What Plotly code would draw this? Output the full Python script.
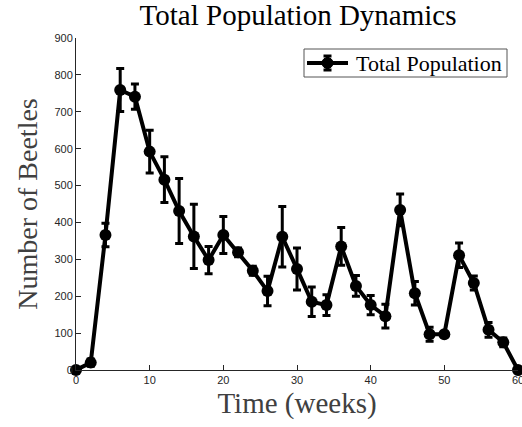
import plotly.graph_objects as go

# Beetle census, sampled every two weeks
weeks = [0, 2, 4, 6, 8, 10, 12, 14, 16, 18, 20, 22, 24, 26, 28, 30,
         32, 34, 36, 38, 40, 42, 44, 46, 48, 50, 52, 54, 56, 58, 60]
total_population = [0, 20, 366, 759, 741, 592, 516, 431, 362, 298, 366, 319,
                    269, 214, 361, 274, 185, 176, 335, 228, 176, 146, 434, 208,
                    97, 97, 311, 236, 109, 75, 0]
population_sd = [0, 10, 32, 58, 34, 58, 62, 88, 87, 37, 50, 12,
                 12, 40, 82, 57, 40, 28, 51, 28, 26, 32, 43, 32,
                 19, 5, 33, 19, 20, 12, 0]

x_ticks = [0, 10, 20, 30, 40, 50, 60]
y_ticks = [0, 100, 200, 300, 400, 500, 600, 700, 800, 900]
series_name = "Total Population"

serif = "Liberation Serif, DejaVu Serif, serif"
sans = "Liberation Sans, Arial, sans-serif"
axis_grey = "#262626"

W, H = 522, 427
M = dict(l=76, r=4, t=38, b=57)
plot_w = W - M["l"] - M["r"]
plot_h = H - M["t"] - M["b"]


def px_x(px):
    """Pixel column -> paper x."""
    return (px - M["l"]) / plot_w


def px_y(py):
    """Pixel row (from top) -> paper y."""
    return (H - M["b"] - py) / plot_h


fig = go.Figure()
fig.add_trace(go.Scatter(
    x=weeks,
    y=total_population,
    mode="lines+markers",
    name=series_name,
    line=dict(color="black", width=4),
    marker=dict(color="black", size=12),
    error_y=dict(type="data", array=population_sd, visible=True,
                 color="black", thickness=3, width=4),
    cliponaxis=False,
    showlegend=False,
))

# Boxed legend with a line / marker / error-bar key
box_l, box_r, box_t, box_b = 304, 507, 49, 77
key_y = (box_t + box_b) / 2
key_cx = 327.5
shapes = [
    dict(type="rect", xref="paper", yref="paper",
         x0=px_x(box_l), x1=px_x(box_r), y0=px_y(box_b), y1=px_y(box_t),
         line=dict(color="#555555", width=1), fillcolor="white", layer="above"),
    dict(type="line", xref="paper", yref="paper",
         x0=px_x(307), x1=px_x(348), y0=px_y(key_y), y1=px_y(key_y),
         line=dict(color="black", width=4), layer="above"),
    dict(type="line", xref="paper", yref="paper",
         x0=px_x(key_cx), x1=px_x(key_cx), y0=px_y(key_y - 7), y1=px_y(key_y + 7),
         line=dict(color="black", width=3), layer="above"),
    dict(type="line", xref="paper", yref="paper",
         x0=px_x(key_cx - 4), x1=px_x(key_cx + 4), y0=px_y(key_y - 7), y1=px_y(key_y - 7),
         line=dict(color="black", width=3), layer="above"),
    dict(type="line", xref="paper", yref="paper",
         x0=px_x(key_cx - 4), x1=px_x(key_cx + 4), y0=px_y(key_y + 7), y1=px_y(key_y + 7),
         line=dict(color="black", width=3), layer="above"),
    dict(type="circle", xref="paper", yref="paper",
         x0=px_x(key_cx - 5.5), x1=px_x(key_cx + 5.5),
         y0=px_y(key_y + 5.5), y1=px_y(key_y - 5.5),
         line=dict(color="black", width=1), fillcolor="black", layer="above"),
]
annotations = [
    dict(text=series_name, xref="paper", yref="paper",
         x=px_x(354), y=px_y(key_y + 1), xanchor="left", yanchor="middle",
         showarrow=False, font=dict(family=serif, size=22, color="black")),
]

fig.update_layout(
    width=W,
    height=H,
    margin=M,
    paper_bgcolor="white",
    plot_bgcolor="white",
    shapes=shapes,
    annotations=annotations,
    title=dict(text="Total Population Dynamics", x=0.571, xanchor="center",
               y=0.965, yanchor="middle", yref="container",
               font=dict(family=serif, size=29, color="black")),
    xaxis=dict(range=[0, 60], tickvals=x_ticks, ticks="inside", ticklen=5,
               tickcolor=axis_grey, showline=True, linecolor=axis_grey,
               linewidth=1, showgrid=False, zeroline=False, mirror=False,
               ticklabeloverflow="allow", automargin=False,
               tickfont=dict(family=sans, size=11, color=axis_grey),
               title=dict(text="Time (weeks)", standoff=7,
                          font=dict(family=serif, size=29, color="#404040"))),
    yaxis=dict(range=[0, 900], tickvals=y_ticks, ticks="inside", ticklen=5,
               tickcolor=axis_grey, showline=True, linecolor=axis_grey,
               linewidth=1, showgrid=False, zeroline=False, mirror=False,
               automargin=False,
               tickfont=dict(family=sans, size=11, color=axis_grey),
               title=dict(text="Number of Beetles", standoff=8,
                          font=dict(family=serif, size=28, color="#404040"))),
)

fig.write_html("out.html")
